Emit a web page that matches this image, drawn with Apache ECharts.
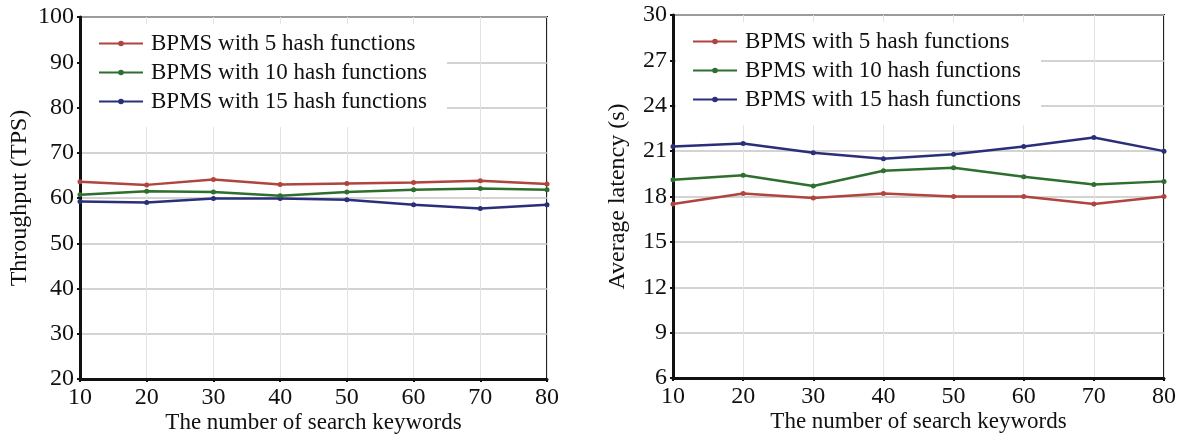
<!DOCTYPE html>
<html>
<head>
<meta charset="utf-8">
<script src="https://cdn.jsdelivr.net/npm/echarts@6/dist/echarts.min.js"></script>
<style>
html,body{margin:0;padding:0;background:#fff;}
#c{width:1180px;height:436px;}
</style>
</head>
<body>
<div id="c"></div>
<script>
var keywords = [10, 20, 30, 40, 50, 60, 70, 80];
var seriesNames = ['BPMS with 5 hash functions', 'BPMS with 10 hash functions', 'BPMS with 15 hash functions'];
// Left: throughput (TPS)
var tps5  = [63.6, 62.9, 64.1, 63.0, 63.2, 63.4, 63.8, 63.1];
var tps10 = [60.7, 61.5, 61.3, 60.5, 61.3, 61.8, 62.1, 61.8];
var tps15 = [59.2, 59.0, 59.9, 59.9, 59.6, 58.5, 57.7, 58.5];
// Right: average latency (s)
var lat5  = [17.5, 18.2, 17.9, 18.2, 18.0, 18.0, 17.5, 18.0];
var lat10 = [19.1, 19.4, 18.7, 19.7, 19.9, 19.3, 18.8, 19.0];
var lat15 = [21.3, 21.5, 20.9, 20.5, 20.8, 21.3, 21.9, 21.0];
var tpsTicks = [20, 100, 10];
var latTicks = [6, 30, 3];

var colors = ['#b0443f', '#2e6e2e', '#2b2e78'];
var FONT = 'Liberation Serif';

function pairs(vals){ return keywords.map(function(k,i){ return [k, vals[i]]; }); }

function mkSeries(vals, idx, axisIdx){
  return {
    name: seriesNames[idx], type: 'line',
    xAxisIndex: axisIdx, yAxisIndex: axisIdx,
    data: pairs(vals),
    symbol: 'circle', symbolSize: 5,
    lineStyle: {width: 2.5, color: colors[idx]},
    itemStyle: {color: colors[idx]},
    z: 5 + (2 - idx)
  };
}

function xAx(gi){
  return {
    type: 'value', gridIndex: gi, min: 10, max: 80, interval: 10,
    name: 'The number of search keywords', nameLocation: 'middle', nameGap: 32,
    nameMoveOverlap: false,
    nameTextStyle: {fontFamily: FONT, fontSize: 23, color: '#111'},
    axisLine: {show: true, onZero: false, lineStyle: {color: '#111', width: 3}},
    axisTick: {show: true, length: 3, lineStyle: {color: '#111', width: 2}},
    axisLabel: {fontFamily: FONT, fontSize: 24, color: '#111', margin: 7},
    splitLine: {show: true, lineStyle: {color: '#e3e3e3', width: 1}}
  };
}
function yAx(gi, t, name, gap){
  return {
    type: 'value', gridIndex: gi, min: t[0], max: t[1], interval: t[2],
    name: name, nameLocation: 'middle', nameGap: gap, nameRotate: 90,
    nameMoveOverlap: false,
    nameTextStyle: {fontFamily: FONT, fontSize: 24, color: '#111'},
    axisLine: {show: true, onZero: false, lineStyle: {color: '#111', width: 3}},
    axisTick: {show: true, length: 3, lineStyle: {color: '#111', width: 2}},
    axisLabel: {fontFamily: FONT, fontSize: 24, color: '#111', margin: 6},
    splitLine: {show: true, lineStyle: {color: '#c4c4c4', width: 1.5}}
  };
}
function leg(left, top){
  return {
    orient: 'vertical', left: left, top: top,
    data: seriesNames,
    itemWidth: 44, itemHeight: 7, itemGap: 6,
    backgroundColor: '#fff',
    padding: [8, 20, 14, 16],
    textStyle: {fontFamily: FONT, fontSize: 23, color: '#111', padding: [0,0,0,3]}
  };
}

var chart = echarts.init(document.getElementById('c'), null, {renderer: 'canvas'});
chart.setOption({
  animation: false,
  backgroundColor: '#fff',
  grid: [
    {left: 80, top: 17, width: 467, height: 362, show: true, borderColor: '#222', borderWidth: 2, backgroundColor: 'transparent', outerBoundsMode: 'none', containLabel: false},
    {left: 673, top: 15, width: 491, height: 363, show: true, borderColor: '#222', borderWidth: 2, backgroundColor: 'transparent', outerBoundsMode: 'none', containLabel: false}
  ],
  legend: [leg(82, 24), leg(676, 22)],
  xAxis: [xAx(0), xAx(1)],
  yAxis: [yAx(0, tpsTicks, 'Throughput (TPS)', 48), yAx(1, latTicks, 'Average latency (s)', 43)],
  series: [
    mkSeries(tps5, 0, 0), mkSeries(tps10, 1, 0), mkSeries(tps15, 2, 0),
    mkSeries(lat5, 0, 1), mkSeries(lat10, 1, 1), mkSeries(lat15, 2, 1)
  ]
});
</script>
</body>
</html>
